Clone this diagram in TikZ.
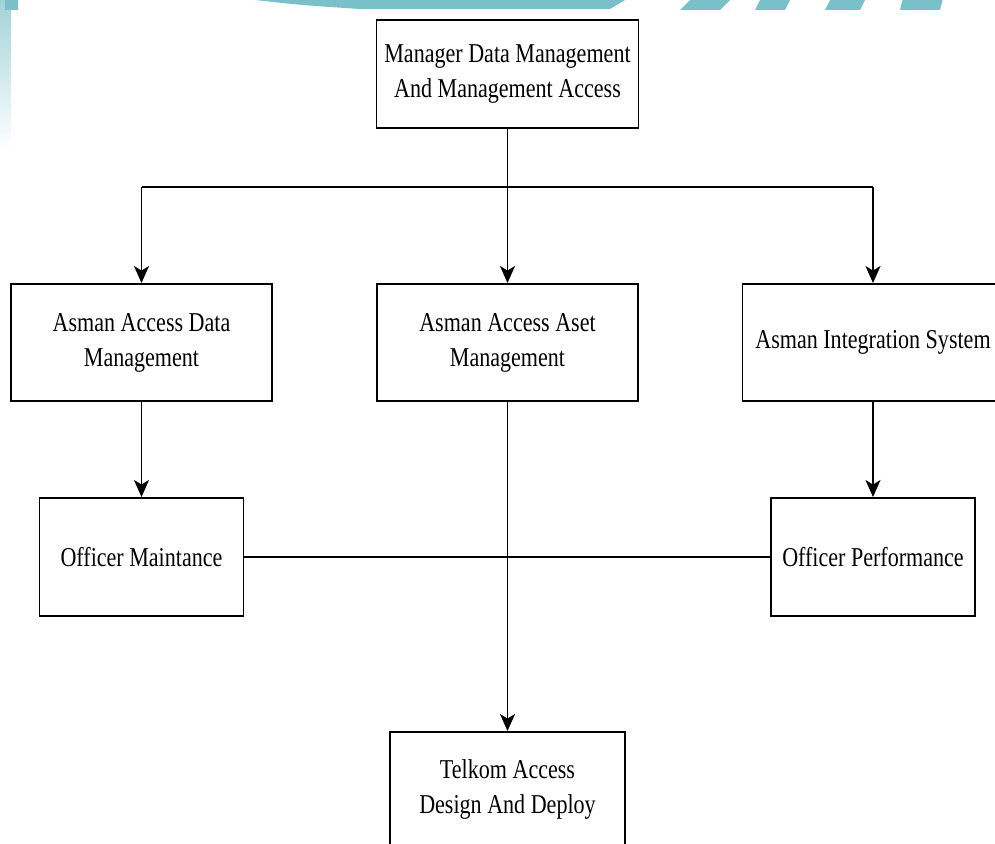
\documentclass[tikz,border=0pt]{standalone}
\usepackage{fontspec}
\setmainfont[FakeStretch=0.81]{Liberation Serif}
\usetikzlibrary{arrows.meta, positioning}

\definecolor{wmteal}{RGB}{122,192,200}

\begin{document}
\begin{tikzpicture}[every node/.append style = {font=\fontsize{15.5}{19.9}\selectfont, align=center},
		unit/.style = {draw, line width=1.1pt, inner sep=2pt},
		link/.style = {line width=1.05pt},
		arrow/.style = {link, -{Stealth[length=0.34cm, width=0.3cm, inset=0.09cm]}}]
	\useasboundingbox (0,0) rectangle (19.9,-16.86);
	\clip (0,0) rectangle (19.9,-16.86);

	% watermark left over at the top
	\shade[top color=wmteal!70, bottom color=white] (0,0) rectangle (0.22,-3);
	\fill[wmteal] (0.1,0) rectangle (0.36,-0.2);
	\fill[wmteal] (5.1,0) -- (12.5,0) -- (12.2,-0.18) -- (7.2,-0.18) .. controls (6.0,-0.1) .. (5.1,0);
	\fill[wmteal] (13.8,0) -- (14.6,0) -- (14.4,-0.2) -- (13.6,-0.2) -- cycle;
	\fill[wmteal] (15.2,0) -- (15.8,0) -- (15.7,-0.2) -- (15.1,-0.2) -- cycle;
	\fill[wmteal] (16.6,0) -- (17.3,0) -- (17.2,-0.2) -- (16.5,-0.2) -- cycle;
	\fill[wmteal] (18.05,0) -- (18.85,0) -- (18.8,-0.2) -- (18.0,-0.2) -- cycle;

	\node[unit, minimum width=5.24cm, minimum height=2.16cm] (mgr) at (10.15,-1.48) {Manager Data Management\\And Management Access};

	\node[unit, minimum width=5.22cm, minimum height=2.34cm] (adata) at (2.83,-6.85) {Asman Access Data\\Management};
	\node[unit, minimum width=5.22cm, minimum height=2.34cm] (aaset) at (10.15,-6.85) {Asman Access Aset\\Management};
	\node[unit, minimum width=5.22cm, minimum height=2.34cm] (aint) at (17.46,-6.85) {Asman Integration System};

	\node[unit, minimum width=4.08cm, minimum height=2.36cm] (omaint) at (2.83,-11.14) {Officer Maintance};
	\node[unit, minimum width=4.08cm, minimum height=2.36cm] (operf) at (17.46,-11.14) {Officer Performance};

	\node[unit, minimum width=4.7cm, minimum height=2.28cm] (telkom) at (10.15,-15.78) {Telkom Access\\Design And Deploy};

	\coordinate (split) at (10.15,-3.74);

	\draw[link] (mgr.south) -- (split);
	\draw[link] (adata.north |- split) -- (aint.north |- split);
	\draw[arrow] (adata.north |- split) -- (adata.north);
	\draw[arrow] (split) -- (aaset.north);
	\draw[arrow] (aint.north |- split) -- (aint.north);

	\draw[arrow] (adata) -- (omaint);
	\draw[arrow] (aint) -- (operf);
	\draw[arrow] (aaset) -- (telkom);
	\draw[link] (omaint) -- (operf);
\end{tikzpicture}
\end{document}
